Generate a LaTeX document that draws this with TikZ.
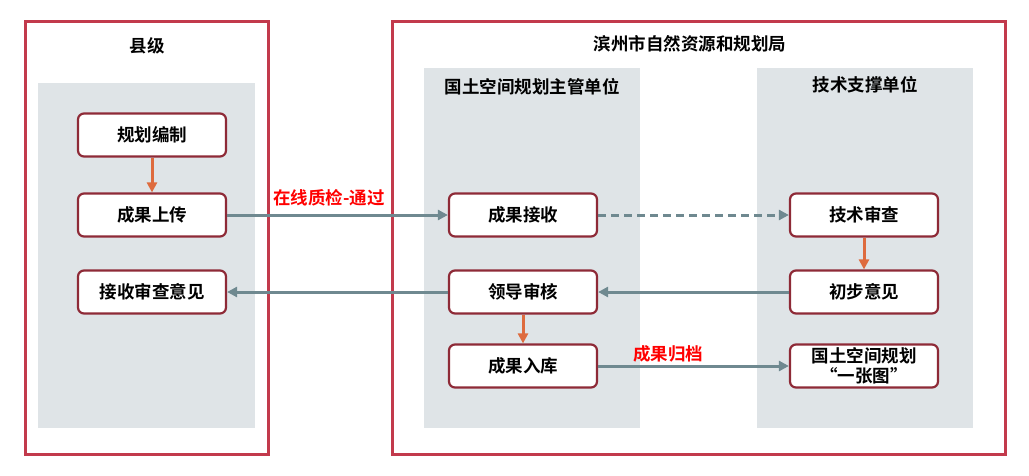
\documentclass[tikz,border=0pt]{standalone}
\usepackage{fontspec}
\setmainfont{Noto Sans CJK SC}[BoldFont={* Bold}]
\usetikzlibrary{arrows.meta}
\definecolor{frameRed}{HTML}{C23A4C}
\definecolor{boxRed}{HTML}{8E2A37}
\definecolor{panelGray}{HTML}{DFE4E7}
\definecolor{arrGray}{HTML}{6F8990}
\definecolor{arrOrange}{HTML}{DE6B3E}
\definecolor{lblRed}{HTML}{FF0000}
\tikzset{
  outerframe/.style={draw=frameRed, line width=3pt},
  panel/.style={fill=panelGray, draw=none},
  stepbox/.style={draw=boxRed, line width=2.2pt, fill=white, rounded corners=6pt,
    minimum width=148pt, minimum height=43pt, inner sep=0pt, align=center,
    font=\bfseries\fontsize{17.5}{18}\selectfont},
  title/.style={font=\bfseries\fontsize{17.5}{19}\selectfont},
  garrow/.style={draw=arrGray, line width=3pt, -{Triangle[length=10pt,width=10pt]}},
  oarrow/.style={draw=arrOrange, line width=3pt, -{Triangle[length=10pt,width=10pt]}},
  redlabel/.style={font=\bfseries\fontsize{17.5}{19}\selectfont, text=lblRed},
}
\begin{document}
\begin{tikzpicture}[x=1pt,y=-1pt]
\useasboundingbox (0,0) rectangle (1029,475);
% outer frames
\draw[outerframe] (25,21) rectangle (268,454);
\draw[outerframe] (392,21) rectangle (1005,454);
% panels
\fill[panel] (38,83) rectangle (255,428);
\fill[panel] (424,68) rectangle (640,428);
\fill[panel] (757,68) rectangle (973,428);
% titles
\node[title] (tCounty) at (147,46) {县级};
\node[title] (tBureau) at (690,44) {滨州市自然资源和规划局};
\node[title] (tMain) at (532,87) {国土空间规划主管单位};
\node[title] (tTech) at (865,85) {技术支撑单位};
% boxes
\node[stepbox] (bz) at (152,135) {规划编制};
\node[stepbox] (sc) at (152,215) {成果上传};
\node[stepbox] (js) at (152,292) {接收审查意见};
\node[stepbox] (jsh) at (523,215) {成果接收};
\node[stepbox] (ld) at (523,292) {领导审核};
\node[stepbox] (rk) at (523,366) {成果入库};
\node[stepbox] (jc) at (864,215) {技术审查};
\node[stepbox] (cb) at (864,292) {初步意见};
\node[stepbox, font=\bfseries\fontsize{17.5}{19.5}\selectfont] (yzt) at (864,366) {国土空间规划\\“一张图”};
% arrows
\draw[oarrow] (bz) -- (sc);
\draw[oarrow] (jc) -- (cb);
\draw[oarrow] (ld) -- (rk);
\draw[garrow] (sc) -- (jsh);
\draw[garrow, dash pattern=on 8pt off 5pt] (jsh) -- (jc);
\draw[garrow] (cb) -- (ld);
\draw[garrow] (ld) -- (js);
\draw[garrow] (rk) -- (yzt);
% labels
\node[redlabel] (l1) at (329,198) {在线质检-通过};
\node[redlabel] (l2) at (668,354) {成果归档};
\end{tikzpicture}
\end{document}
